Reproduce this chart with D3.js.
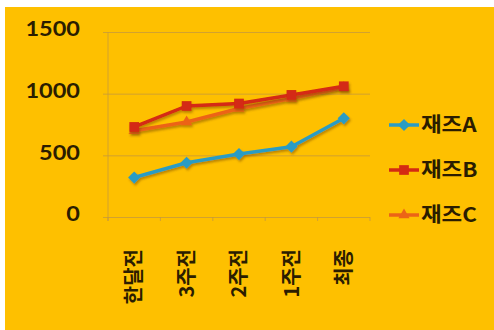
<!DOCTYPE html>
<html>
<head>
<meta charset="utf-8">
<script src="https://cdn.jsdelivr.net/npm/d3@7"></script>
<style>
  html, body { margin: 0; padding: 0; background: #ffffff; }
  svg { display: block; }
  .num { font-family: Lato, "Open Sans", sans-serif; }
  .kr { font-family: "Noto Sans CJK KR", "Noto Sans", sans-serif; }
</style>
</head>
<body>
<svg id="chart" width="494" height="330"></svg>
<script>
// Categories (time before the final) and values per series
const categories = ["한달전", "3주전", "2주전", "1주전", "최종"];
const seriesNames = ["재즈A", "재즈B", "재즈C"];
const jazzA = [320, 440, 510, 570, 800];
const jazzB = [730, 900, 920, 990, 1060];
const jazzC = [700, 770, 880, 960, 1050];
const yTicks = [0, 500, 1000, 1500];

const series = [
  { name: seriesNames[0], values: jazzA, color: "#2b9cc4", marker: "diamond" },
  { name: seriesNames[1], values: jazzB, color: "#d42a12", marker: "square" },
  { name: seriesNames[2], values: jazzC, color: "#ec6416", marker: "triangle" }
];

const W = 494, H = 330;
const plot = { left: 108, right: 370, top: 32, bottom: 217 };
const textColor = "#2b1d00";
const gridColor = "#c79a3a";

const svg = d3.select("#chart");

// soft shadow under the lines and markers
const defs = svg.append("defs");
const f = defs.append("filter").attr("id", "shadow")
  .attr("x", "-20%").attr("y", "-20%").attr("width", "140%").attr("height", "140%");
f.append("feDropShadow").attr("dx", 1.2).attr("dy", 2).attr("stdDeviation", 1.2)
  .attr("flood-color", "#6b3a00").attr("flood-opacity", 0.45);

// chart area background
svg.append("rect").attr("x", 5).attr("y", 7).attr("width", W - 5).attr("height", H - 7)
  .attr("fill", "#fec000");

const x = d3.scaleBand().domain(categories).range([plot.left, plot.right]);
const y = d3.scaleLinear().domain([0, 1500]).range([plot.bottom, plot.top]);

// horizontal gridlines
const yAxis = d3.axisLeft(y).tickValues(yTicks).tickSize(-(plot.right - plot.left + 5)).tickFormat("");
const gy = svg.append("g").attr("transform", `translate(${plot.left - 5},0)`).call(yAxis);
gy.select(".domain").remove();
gy.selectAll(".tick line").attr("stroke", gridColor).attr("stroke-width", 1).attr("opacity", 0.8);

// vertical axis line with short ticks
svg.append("line")
  .attr("x1", plot.left).attr("x2", plot.left)
  .attr("y1", y(1500)).attr("y2", y(0) + 4)
  .attr("stroke", gridColor).attr("stroke-width", 1).attr("opacity", 0.8);

// category ticks below the baseline
const xAxis = d3.axisBottom(x).tickSize(4).tickFormat("");
const gx = svg.append("g").attr("transform", `translate(0,${plot.bottom})`).call(xAxis);
gx.select(".domain").remove();
gx.selectAll(".tick").remove();
const edges = d3.range(categories.length + 1).map(i => plot.left + i * x.step());
gx.selectAll("line.edge").data(edges).join("line").attr("class", "edge")
  .attr("x1", d => d).attr("x2", d => d).attr("y1", 0).attr("y2", 4)
  .attr("stroke", gridColor).attr("opacity", 0.8);

// y tick labels
svg.append("g").selectAll("text").data(yTicks).join("text")
  .attr("class", "num")
  .attr("transform", d => `translate(80,${y(d) - 3}) scale(1.12,1)`)
  .attr("text-anchor", "end").attr("dy", "0.35em")
  .attr("font-size", 21).attr("font-weight", 700).attr("fill", textColor)
  .text(d => d);

// rotated category labels
svg.append("g").selectAll("text").data(categories).join("text")
  .attr("class", "kr")
  .attr("transform", d => `translate(${x(d) + x.bandwidth() / 2},249) rotate(-90)`)
  .attr("text-anchor", "end").attr("dy", "0.36em")
  .attr("font-size", 20).attr("font-weight", 700).attr("fill", textColor)
  .text(d => d);

function markerPath(type, size) {
  const sym = type === "diamond" ? d3.symbolDiamond2 : type === "square" ? d3.symbolSquare2 : d3.symbolTriangle2;
  return d3.symbol().type(sym).size(size)();
}
const markerSize = { diamond: 95, square: 120, triangle: 90 };

const line = d3.line()
  .x((d, i) => x(categories[i]) + x.bandwidth() / 2)
  .y(d => y(d));

// series: draw C first so B sits on top, A last
const order = [series[2], series[1], series[0]];
order.forEach(s => {
  const g = svg.append("g").attr("filter", "url(#shadow)");
  g.append("path").datum(s.values)
    .attr("d", line).attr("fill", "none")
    .attr("stroke", s.color).attr("stroke-width", 3.5).attr("stroke-linejoin", "round");
  g.selectAll("path.mk").data(s.values).join("path").attr("class", "mk")
    .attr("d", markerPath(s.marker, markerSize[s.marker]))
    .attr("transform", (d, i) => `translate(${x(categories[i]) + x.bandwidth() / 2},${y(d)})`)
    .attr("fill", s.color);
});

// legend
const legY = [125, 170, 215];
const leg = svg.append("g");
series.forEach((s, i) => {
  const g = leg.append("g").attr("transform", `translate(0,${legY[i]})`);
  g.append("line").attr("x1", 389).attr("x2", 419).attr("y1", 0).attr("y2", 0)
    .attr("stroke", s.color).attr("stroke-width", 3.5);
  g.append("path").attr("d", markerPath(s.marker, markerSize[s.marker]))
    .attr("transform", "translate(404,0)").attr("fill", s.color);
  g.append("text").attr("class", "kr")
    .attr("transform", "translate(421,0) scale(1.12,1)")
    .attr("dy", "0.36em").attr("font-size", 20).attr("font-weight", 700)
    .attr("fill", textColor).text(s.name);
});
</script>
</body>
</html>
